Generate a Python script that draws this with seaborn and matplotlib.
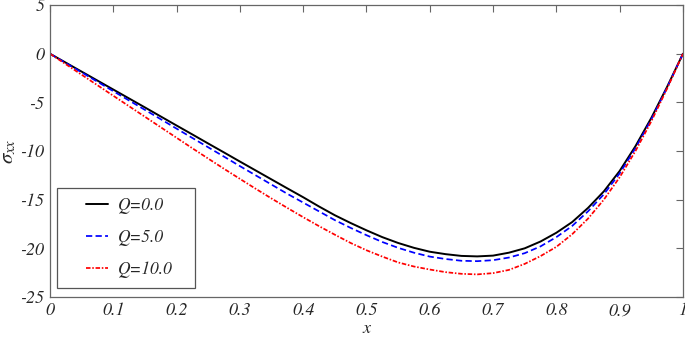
import numpy as np
import pandas as pd
import matplotlib
matplotlib.use("Agg")
import matplotlib.pyplot as plt
from matplotlib.patches import Rectangle
import seaborn as sns

x_vals = [0.0, 0.025, 0.05, 0.075, 0.1, 0.125, 0.15, 0.175, 0.2, 0.225, 0.25,
          0.275, 0.3, 0.325, 0.35, 0.375, 0.4, 0.425, 0.45, 0.475, 0.5,
          0.525, 0.55, 0.575, 0.6, 0.625, 0.65, 0.675, 0.7, 0.725, 0.75,
          0.775, 0.8, 0.825, 0.85, 0.875, 0.9, 0.925, 0.95, 0.975, 1.0]
q0 = [0.0, -0.92, -1.84, -2.76, -3.68, -4.6, -5.52, -6.45, -7.38, -8.3, -9.23,
      -10.15, -11.08, -12.0, -12.92, -13.84, -14.75, -15.7, -16.6, -17.4, -18.15,
      -18.85, -19.45, -19.95, -20.35, -20.6, -20.78, -20.83, -20.75, -20.45, -20.0,
      -19.3, -18.4, -17.3, -15.85, -14.15, -12.05, -9.5, -6.6, -3.4, 0.0]
q5 = [0.0, -0.96, -1.92, -2.88, -3.85, -4.81, -5.77, -6.73, -7.7, -8.66, -9.62,
      -10.58, -11.55, -12.5, -13.45, -14.4, -15.3, -16.2, -17.1, -17.9, -18.65,
      -19.35, -19.95, -20.45, -20.85, -21.1, -21.28, -21.32, -21.22, -20.95, -20.5,
      -19.8, -18.85, -17.7, -16.2, -14.45, -12.3, -9.7, -6.75, -3.47, 0.0]
q10 = [0.0, -1.08, -2.16, -3.24, -4.32, -5.4, -6.48, -7.56, -8.64, -9.72, -10.78,
       -11.83, -12.86, -13.88, -14.88, -15.85, -16.8, -17.72, -18.6, -19.45, -20.2,
       -20.85, -21.45, -21.87, -22.18, -22.45, -22.62, -22.68, -22.55, -22.22, -21.6,
       -20.8, -19.85, -18.55, -16.95, -15.0, -12.7, -10.0, -6.95, -3.58, 0.0]
labels = ["Q=0.0", "Q=5.0", "Q=10.0"]
x_ticks = [0, 0.1, 0.2, 0.3, 0.4, 0.5, 0.6, 0.7, 0.8, 0.9, 1]
x_ticklabels = ["0", "0.1", "0.2", "0.3", "0.4", "0.5", "0.6", "0.7", "0.8", "0.9", "1"]
y_ticks = [5, 0, -5, -10, -15, -20, -25]

sns.set_style("white")
plt.rcParams["font.family"] = ["STIXGeneral", "DejaVu Serif"]
plt.rcParams["font.style"] = "italic"
plt.rcParams["mathtext.fontset"] = "stix"
plt.rcParams["axes.unicode_minus"] = False

fig = plt.figure(figsize=(6.85, 3.39), dpi=100)
ax = fig.add_axes([0.073, 0.124, 0.924, 0.861])

styles = [dict(color="black", linestyle="-", linewidth=1.4),
          dict(color="#0000ff", linestyle=(0, (3.6, 1.9)), linewidth=1.25),
          dict(color="#ff0000", linestyle=(0, (2.6, 1.0, 0.9, 1.0)), linewidth=1.25)]
for ys, lab, st in zip([q0, q5, q10], labels, styles):
    df = pd.DataFrame({"x": x_vals, "y": ys})
    sns.lineplot(data=df, x="x", y="y", ax=ax, label=lab, **st)

ax.set_xlim(0, 1)
ax.set_ylim(-25, 5)
ax.set_xticks(x_ticks)
ax.set_xticklabels(x_ticklabels)
ax.set_yticks(y_ticks)
ax.set_yticklabels([str(v) for v in y_ticks])
ax.tick_params(direction="in", top=True, right=True, length=5, width=0.8,
               color="#666666", labelsize=13, pad=4)
for lab in ax.get_xticklabels() + ax.get_yticklabels():
    lab.set_fontstyle("italic")
for sp in ax.spines.values():
    sp.set_color("#666666")
    sp.set_linewidth(0.9)

ax.set_xlabel("x", fontsize=13, fontstyle="italic", labelpad=1)
ax.set_ylabel(r"$\sigma_{xx}$", fontsize=15, labelpad=1.5)

# legend frame box
ax.add_patch(Rectangle((0.011, 0.031), 0.218, 0.342, transform=ax.transAxes,
                       facecolor="white", edgecolor="#555555", linewidth=0.9,
                       zorder=4))
leg = ax.legend(loc="upper left", bbox_to_anchor=(0.0564, 0.342), frameon=False,
                fontsize=12.5, handlelength=1.3, handletextpad=0.55,
                labelspacing=0.88, borderpad=0.0, borderaxespad=0.0)
leg.set_zorder(5)
for t in leg.get_texts():
    t.set_fontstyle("italic")

fig.savefig("out.png", dpi=100)
